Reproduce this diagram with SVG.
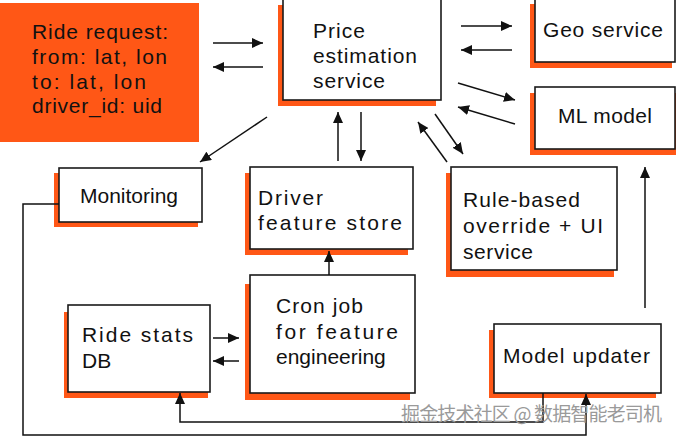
<svg xmlns="http://www.w3.org/2000/svg" width="676" height="436" viewBox="0 0 676 436">
<defs>
<marker id="ah" markerUnits="userSpaceOnUse" markerWidth="12" markerHeight="10" refX="11" refY="5" orient="auto">
<path d="M0,0 L11,5 L0,10 z" fill="#111"/>
</marker>
<style>
.box{fill:#fff;stroke:#1a1a1a;stroke-width:1.6}
.sh{fill:#ff5716}
.t{font-family:"Liberation Sans","DejaVu Sans",sans-serif;font-size:21px;fill:#111}
.c{fill:none;stroke:#111;stroke-width:1.5}
.a{marker-end:url(#ah)}
.wm{font-family:"Noto Sans CJK SC","Liberation Sans",sans-serif;font-size:19px;fill:#9a9a9a}
</style>
</defs>
<rect width="676" height="436" fill="#fff"/>

<g id="ride-request">
<rect x="0" y="3" width="199" height="139" class="sh"/>
<text class="t" x="32" y="39" textLength="136">Ride request:</text>
<text class="t" x="32" y="64" textLength="135">from: lat, lon</text>
<text class="t" x="32" y="89" textLength="114">to: lat, lon</text>
<text class="t" x="32" y="113" textLength="130">driver_id: uid</text>
</g>

<g id="price-estimation">
<rect x="278" y="5" width="158" height="101" class="sh"/>
<rect x="283" y="-2" width="158" height="102" class="box"/>
<text class="t" x="313" y="38" textLength="52">Price</text>
<text class="t" x="313" y="63" textLength="104">estimation</text>
<text class="t" x="313" y="88" textLength="72">service</text>
</g>

<g id="geo-service">
<rect x="530" y="4" width="142" height="64" class="sh"/>
<rect x="535" y="-2" width="140" height="64" class="box"/>
<text class="t" x="543" y="37" textLength="120">Geo service</text>
</g>

<g id="ml-model">
<rect x="530" y="93" width="146" height="62" class="sh"/>
<rect x="535" y="87" width="140" height="62" class="box"/>
<text class="t" x="558" y="123" textLength="94">ML model</text>
</g>

<g id="monitoring">
<rect x="54" y="173" width="144" height="54" class="sh"/>
<rect x="59" y="168" width="143" height="54" class="box"/>
<text class="t" x="80" y="203" textLength="98">Monitoring</text>
</g>

<g id="driver-feature-store">
<rect x="245" y="173" width="163" height="82" class="sh"/>
<rect x="250" y="167" width="163" height="82" class="box"/>
<text class="t" x="258" y="205" textLength="65">Driver</text>
<text class="t" x="258" y="230" textLength="144">feature store</text>
</g>

<g id="rule-based">
<rect x="446" y="173" width="168" height="104" class="sh"/>
<rect x="451" y="167" width="166" height="103" class="box"/>
<text class="t" x="463" y="207" textLength="117">Rule-based</text>
<text class="t" x="463" y="233" textLength="140">override + UI</text>
<text class="t" x="463" y="259" textLength="70">service</text>
</g>

<g id="cron-job">
<rect x="245" y="284" width="165" height="116" class="sh"/>
<rect x="250" y="275" width="165" height="118" class="box"/>
<text class="t" x="276" y="313" textLength="87">Cron job</text>
<text class="t" x="276" y="339" textLength="122">for feature</text>
<text class="t" x="276" y="364">engineering</text>
</g>

<g id="ride-stats-db">
<rect x="64" y="312" width="144" height="86" class="sh"/>
<rect x="68" y="305" width="142" height="87" class="box"/>
<text class="t" x="82" y="342" textLength="111">Ride stats</text>
<text class="t" x="82" y="368">DB</text>
</g>

<g id="model-updater">
<rect x="489" y="330" width="167" height="68" class="sh"/>
<rect x="494" y="324" width="167" height="69" class="box"/>
<text class="t" x="503" y="363" textLength="147">Model updater</text>
</g>

<g id="connectors">
<line class="c a" x1="213" y1="43" x2="263" y2="43"/>
<line class="c a" x1="263" y1="67" x2="213" y2="67"/>
<line class="c a" x1="461" y1="26" x2="512" y2="26"/>
<line class="c a" x1="512" y1="50" x2="461" y2="50"/>
<line class="c a" x1="458" y1="83" x2="515" y2="100"/>
<line class="c a" x1="515" y1="124" x2="458" y2="107"/>
<line class="c a" x1="267" y1="117" x2="200" y2="162"/>
<line class="c a" x1="338" y1="161" x2="338" y2="112"/>
<line class="c a" x1="361" y1="112" x2="361" y2="161"/>
<line class="c a" x1="447" y1="162" x2="418" y2="122"/>
<line class="c a" x1="435" y1="114" x2="463" y2="154"/>
<line class="c a" x1="645" y1="308" x2="645" y2="167"/>
<line class="c a" x1="329" y1="275" x2="329" y2="251"/>
<line class="c a" x1="213" y1="338" x2="239" y2="338"/>
<line class="c a" x1="239" y1="361" x2="213" y2="361"/>
<polyline class="c a" points="59,204 23,204 23,435 586,435 586,394"/>
<polyline class="c a" points="543,393 543,422 180,422 180,393"/>
</g>

<text class="wm" x="401" y="421" textLength="261">掘金技术社区 @ 数据智能老司机</text>
</svg>
